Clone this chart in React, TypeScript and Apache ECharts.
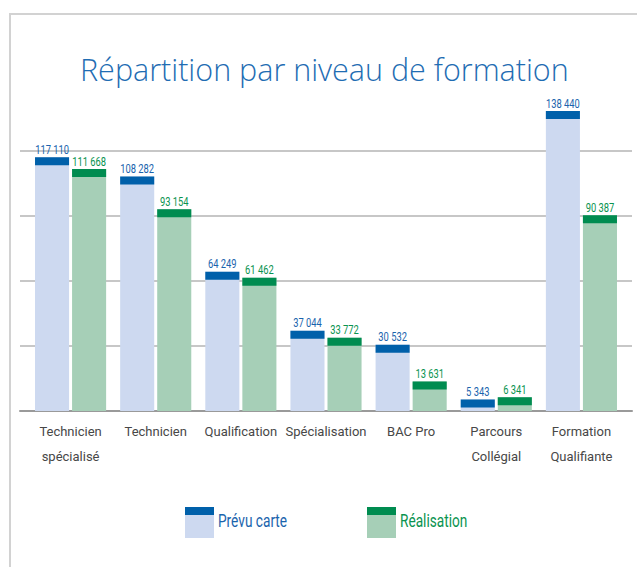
import React, { useEffect, useRef } from "react";
import * as echarts from "echarts";

const categories = [
  "Technicien\nspécialisé",
  "Technicien",
  "Qualification",
  "Spécialisation",
  "BAC Pro",
  "Parcours\nCollégial",
  "Formation\nQualifiante",
];
const prevuCarte = [117110, 108282, 64249, 37044, 30532, 5343, 138440];
const realisation = [111668, 93154, 61462, 33772, 13631, 6341, 90387];
const seriesNames = ["Prévu carte", "Réalisation"];

const FONT = "Roboto, 'Liberation Sans', sans-serif";
const BLUE_LIGHT = "#cdd9f0";
const BLUE_DARK = "#0060aa";
const BLUE_TEXT = "#1a64ad";
const GREEN_LIGHT = "#a6cfb7";
const GREEN_DARK = "#008c50";
const GREEN_TEXT = "#0a9350";

const fmt = (v: number) => String(v).replace(/\B(?=(\d{3})+(?!\d))/g, " ");

function makeRender(side: number, light: string, dark: string, textColor: string) {
  return (params: any, api: any) => {
    const cat = api.value(0);
    const v = api.value(1);
    const top = api.coord([cat, v]);
    const base = api.coord([cat, 0]);
    const band = api.size([1, 0])[0];
    const w = band * 0.4;
    const gap = band * 0.0176;
    const x = side < 0 ? top[0] - gap - w : top[0] + gap;
    const h = base[1] - top[1];
    const cap = Math.min(8, h);
    return {
      type: "group",
      children: [
        { type: "rect", shape: { x, y: top[1], width: w, height: h }, style: { fill: light } },
        { type: "rect", shape: { x, y: top[1], width: w, height: cap }, style: { fill: dark } },
        {
          type: "text",
          x: x + w / 2,
          y: top[1] - 1.5,
          scaleX: 0.72,
          style: {
            text: fmt(v),
            fill: textColor,
            fontSize: 13,
            fontFamily: FONT,
            align: "center",
            verticalAlign: "bottom",
          },
        },
      ],
    };
  };
}

export default function App() {
  const ref = useRef<HTMLDivElement>(null);
  useEffect(() => {
    document.body.style.margin = "0";
    if (!ref.current) return;
    const chart = echarts.init(ref.current, undefined, { renderer: "svg" });
    const legendItem = (x: number, light: string, dark: string, color: string, name: string) => ({
      type: "group",
      children: [
        { type: "rect", shape: { x, y: 507, width: 29, height: 31 }, style: { fill: light } },
        { type: "rect", shape: { x, y: 507, width: 29, height: 8 }, style: { fill: dark } },
        {
          type: "text",
          x: x + 33,
          y: 521,
          scaleX: 0.76,
          style: {
            text: name,
            fill: color,
            fontSize: 18,
            fontFamily: FONT,
            verticalAlign: "middle",
          },
        },
      ],
    });
    chart.setOption({
      animation: false,
      backgroundColor: "#ffffff",
      title: {
        text: "Répartition par niveau de formation",
        left: 75,
        top: 48,
        textStyle: {
          fontFamily: "'Open Sans', Lato, sans-serif",
          fontWeight: 300,
          fontSize: 30.5,
          color: "#1f6db3",
        },
      },
      graphic: [
        {
          type: "polyline",
          shape: { points: [[10, 567], [10, 14], [637, 14]] },
          style: { stroke: "#d2d2d2", lineWidth: 2, fill: null },
        },
        legendItem(185, BLUE_LIGHT, BLUE_DARK, BLUE_TEXT, seriesNames[0]),
        legendItem(367, GREEN_LIGHT, GREEN_DARK, GREEN_TEXT, seriesNames[1]),
      ],
      grid: [
        { left: 20, right: 5, top: 86, bottom: 156 },
        { left: 28, right: 13, top: 86, bottom: 156 },
      ],
      xAxis: [
        {
          gridIndex: 0,
          type: "category",
          data: categories,
          axisLine: { show: true, lineStyle: { color: "#9a9a9a", width: 2 } },
          axisTick: { show: false },
          axisLabel: { show: false },
        },
        {
          gridIndex: 1,
          type: "category",
          data: categories,
          axisLine: { show: false },
          axisTick: { show: false },
          axisLabel: {
            margin: 8,
            fontFamily: FONT,
            fontSize: 13,
            lineHeight: 25,
            color: "#474747",
            interval: 0,
          },
        },
      ],
      yAxis: [
        {
          gridIndex: 0,
          type: "value",
          min: 0,
          max: 150000,
          interval: 30000,
          axisLine: { show: false },
          axisTick: { show: false },
          axisLabel: { show: false },
          splitLine: {
            show: true,
            lineStyle: {
              color: ["#b4b4b4", "#b4b4b4", "#b4b4b4", "#b4b4b4", "#b4b4b4", "rgba(0,0,0,0)"],
              width: 1.5,
            },
          },
        },
        {
          gridIndex: 1,
          type: "value",
          min: 0,
          max: 150000,
          interval: 30000,
          axisLine: { show: false },
          axisTick: { show: false },
          axisLabel: { show: false },
          splitLine: { show: false },
        },
      ],
      series: [
        {
          name: seriesNames[0],
          type: "custom",
          xAxisIndex: 1,
          yAxisIndex: 1,
          encode: { x: 0, y: 1 },
          data: prevuCarte.map((v, i) => [i, v]),
          renderItem: makeRender(-1, BLUE_LIGHT, BLUE_DARK, BLUE_TEXT),
        },
        {
          name: seriesNames[1],
          type: "custom",
          xAxisIndex: 1,
          yAxisIndex: 1,
          encode: { x: 0, y: 1 },
          data: realisation.map((v, i) => [i, v]),
          renderItem: makeRender(1, GREEN_LIGHT, GREEN_DARK, GREEN_TEXT),
        },
      ],
    });
    return () => chart.dispose();
  }, []);
  return <div ref={ref} style={{ width: 637, height: 567 }} />;
}
